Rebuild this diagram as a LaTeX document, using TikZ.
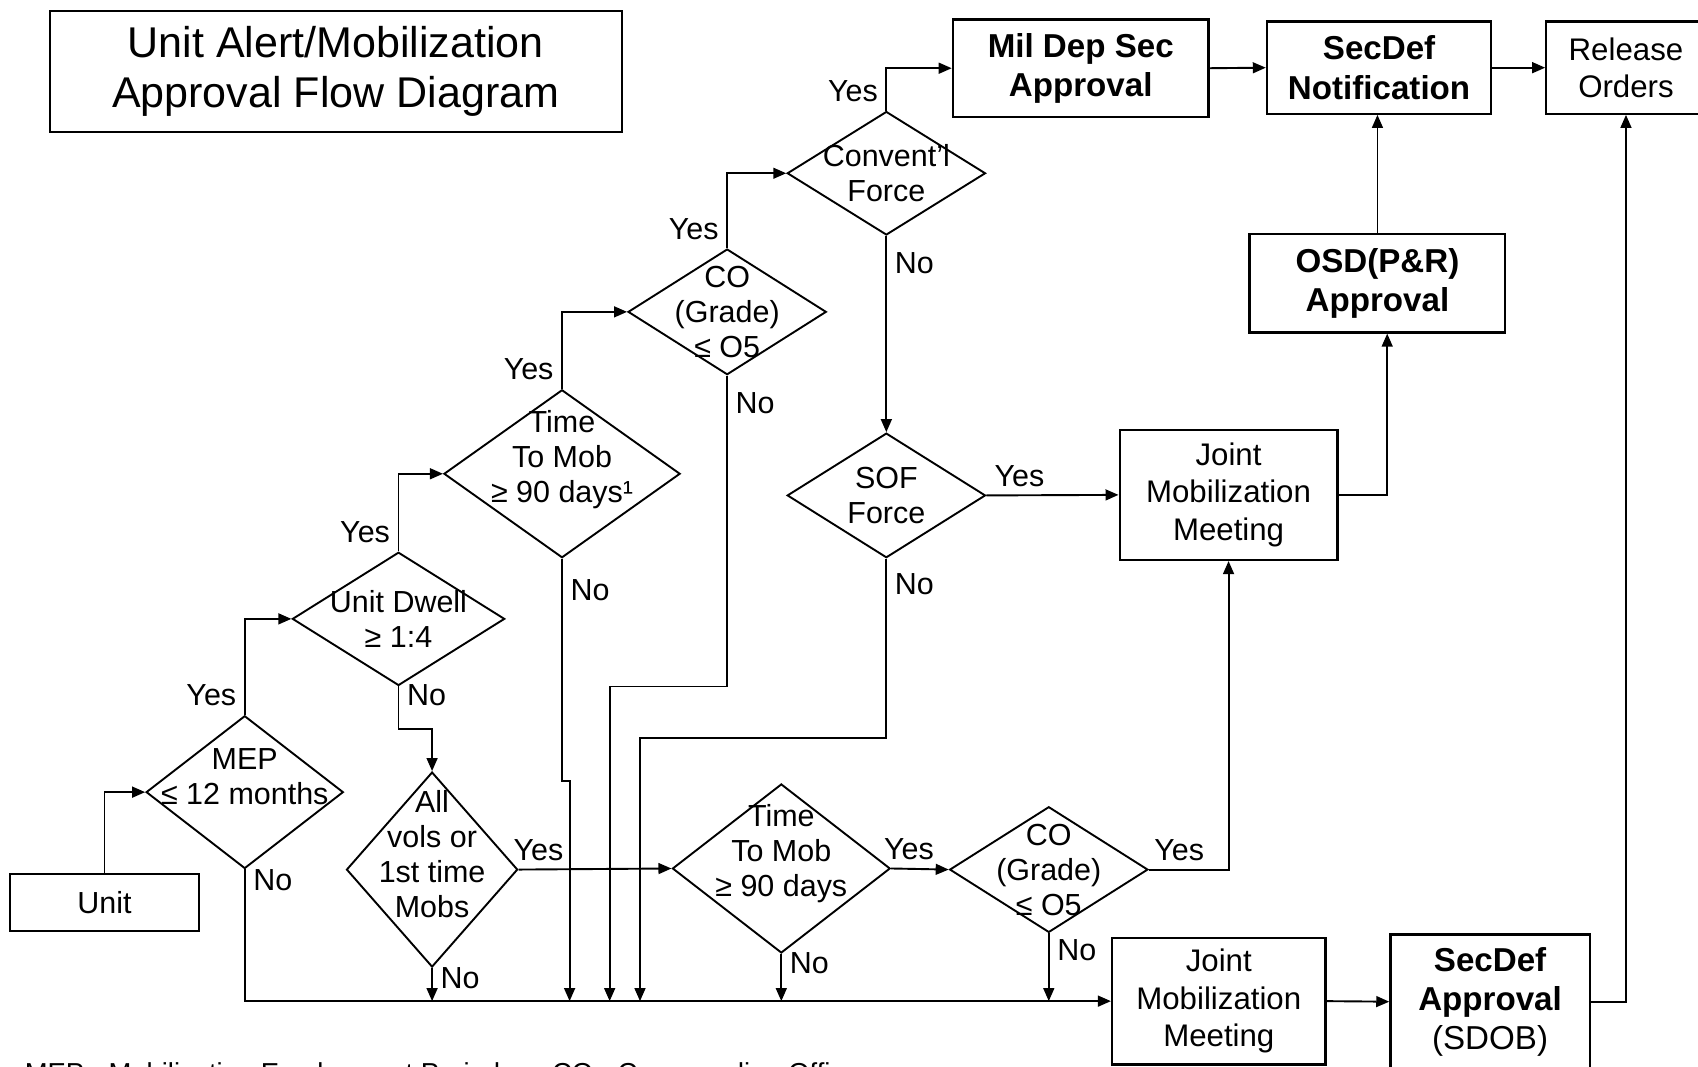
\documentclass[tikz,border=0pt]{standalone}
\usepackage{fontspec}
\setmainfont{Liberation Sans}
\usetikzlibrary{shapes.geometric,arrows.meta}

\begin{document}
\begin{tikzpicture}[x=0.01cm,y=-0.01cm,line width=0.5pt,
    every node/.style={font=\fontsize{8}{9.2}\selectfont,align=center},
    box/.style={draw,rectangle,line width=0.6pt,inner sep=0pt},
    bbox/.style={box,font=\fontsize{8.7}{10.3}\selectfont\bfseries},
    dec/.style={draw,diamond,inner sep=0pt},
    lbl/.style={inner sep=2pt},
    note/.style={anchor=base west,inner sep=0pt,font=\fontsize{7.2}{8.6}\selectfont},
    arr/.style={-{Triangle[length=1.2mm,width=1mm]}}]
  \useasboundingbox (0,0) rectangle (1568,985);

  % title
  \node[box,minimum width=5.28cm,minimum height=1.12cm,
    font=\fontsize{11.3}{13.1}\selectfont] (title) at (310,66)
    {Unit Alert/Mobilization\\Approval Flow Diagram};

  % boxes
  \node[box,minimum width=1.75cm,minimum height=0.53cm] (unit) at (96.5,833.5) {Unit};
  \node[bbox,minimum width=2.36cm,minimum height=0.90cm] (mil) at (998,63) {Mil Dep Sec\\Approval};
  \node[bbox,minimum width=2.07cm,minimum height=0.85cm] (notif) at (1273.5,62.5) {SecDef\\Notification};
  \node[box,minimum width=1.47cm,minimum height=0.85cm,
    font=\fontsize{8.2}{9.8}\selectfont] (release) at (1501.5,62.5) {Release\\Orders};
  \node[bbox,minimum width=2.36cm,minimum height=0.91cm] (osd) at (1272,261.5) {OSD(P\&R)\\Approval};
  \node[box,minimum width=2.01cm,minimum height=1.20cm,
    font=\fontsize{8.2}{9.8}\selectfont] (jmm1) at (1134.5,457) {Joint\\Mobilization\\Meeting};
  \node[box,minimum width=1.97cm,minimum height=1.17cm,
    font=\fontsize{8.2}{9.8}\selectfont] (jmm2) at (1125.5,924.5) {Joint\\Mobilization\\Meeting};
  \node[bbox,minimum width=1.84cm,minimum height=1.24cm] (sdob) at (1376,925)
    {SecDef\\Approval\\{\mdseries (SDOB)}};

  % decisions
  \node[dec,minimum width=1.82cm,minimum height=1.41cm] (mep) at (226,731.5) {};
  \node[dec,minimum width=1.96cm,minimum height=1.23cm] (dwell) at (368,571.5) {};
  \node[dec,minimum width=2.18cm,minimum height=1.55cm] (time1) at (519,437.5) {};
  \node[dec,minimum width=1.83cm,minimum height=1.16cm] (co1) at (671.5,288) {};
  \node[dec,minimum width=1.83cm,minimum height=1.14cm] (conv) at (818.5,160) {};
  \node[dec,minimum width=1.83cm,minimum height=1.15cm] (sof) at (818.5,457.5) {};
  \node[dec,minimum width=1.58cm,minimum height=1.80cm] (allvols) at (399,803) {};
  \node[dec,minimum width=2.01cm,minimum height=1.56cm] (time2) at (721.5,802) {};
  \node[dec,minimum width=1.83cm,minimum height=1.16cm] (co2) at (968.5,803) {};

  \node (mep-t) at ([yshift=1.4mm]mep.center) {MEP\\≤ 12 months};
  \node (dwell-t) at (dwell.center) {Unit Dwell\\≥ 1:4};
  \node (time1-t) at ([yshift=1.3mm]time1.center) {Time\\To Mob\\≥ 90 days¹};
  \node (co1-t) at (co1.center) {CO\\(Grade)\\≤ O5};
  \node (conv-t) at (conv.center) {Convent’l\\Force};
  \node (sof-t) at (sof.center) {SOF\\Force};
  \node (allvols-t) at ([yshift=1.4mm]allvols.center) {All\\vols or\\1st time\\Mobs};
  \node (time2-t) at ([yshift=1.4mm]time2.center) {Time\\To Mob\\≥ 90 days};
  \node (co2-t) at (co2.center) {CO\\(Grade)\\≤ O5};

  % entry points on the bottom line
  \coordinate (bus) at (jmm2.west);
  \coordinate (in2) at (526,924.5);
  \coordinate (in3) at (563,924.5);
  \coordinate (in4) at (591,924.5);

  % yes branches
  \draw[arr] (unit.north) |- (mep.west);
  \draw[arr] (mep.north) node[lbl,above left] (y1) {Yes} |- (dwell.west);
  \draw[arr] (dwell.north) node[lbl,above left] (y2) {Yes} |- (time1.west);
  \draw[arr] (time1.north) node[lbl,above left] (y3) {Yes} |- (co1.west);
  \draw[arr] (co1.north) node[lbl,above left] (y4) {Yes} |- (conv.west);
  \draw[arr] (conv.north) node[lbl,above left] (y5) {Yes} |- (mil.west);
  \draw[arr] (sof.east) -- node[lbl,pos=0.25,above] (y6) {Yes} (jmm1.west);
  \draw[arr] (allvols.east) -- node[lbl,pos=0.13,above] (y7) {Yes} (time2.west);
  \draw[arr] (time2.east) -- node[lbl,pos=0.31,above] (y8) {Yes} (co2.west);
  \draw[arr] (co2.east) -| node[lbl,pos=0.19,above] (y9) {Yes} (jmm1.south);

  % no branches
  \draw[arr] (mep.south) |- node[lbl,pos=0.04,right] (n1) {No} (bus);
  \draw[arr] (dwell.south) -- node[lbl,pos=0.2,right] (n2) {No} ++(0,39) -| (allvols.north);
  \draw[arr] (allvols.south) -- node[lbl,pos=0.3,right] (n3) {No} (allvols.south |- bus);
  \draw[arr] (time1.south) -- node[lbl,pos=0.14,right] (n4) {No} ++(0,205) -| (in2);
  \draw[arr] (co1.south) -- node[lbl,pos=0.09,right] (n5) {No} ++(0,287) -| (in3);
  \draw[arr] (conv.south) -- node[lbl,pos=0.14,right] (n6) {No} (sof.north);
  \draw[arr] (sof.south) -- node[lbl,pos=0.14,right] (n7) {No} ++(0,166) -| (in4);
  \draw[arr] (time2.south) -- node[lbl,pos=0.2,right] (n8) {No} (time2.south |- bus);
  \draw[arr] (co2.south) -- node[lbl,pos=0.25,right] (n9) {No} (co2.south |- bus);

  % approvals
  \draw[arr] (mil.east) -- (notif.west);
  \draw[arr] (notif.east) -- (release.west);
  \draw[arr] (jmm1.east) -| ([xshift=0.09cm]osd.south);
  \draw[arr] (osd.north) -- (osd.north |- notif.south);
  \draw[arr] (jmm2.east) -- (sdob.west);
  \draw[arr] (sdob.east) -| (release.south);

  % notes
  \node[note] (mepnote) at (22,1000) {MEP - Mobilization Employment Period};
  \node[note] (conote) at (509,1000) {CO - Commanding Officer};
\end{tikzpicture}
\end{document}
